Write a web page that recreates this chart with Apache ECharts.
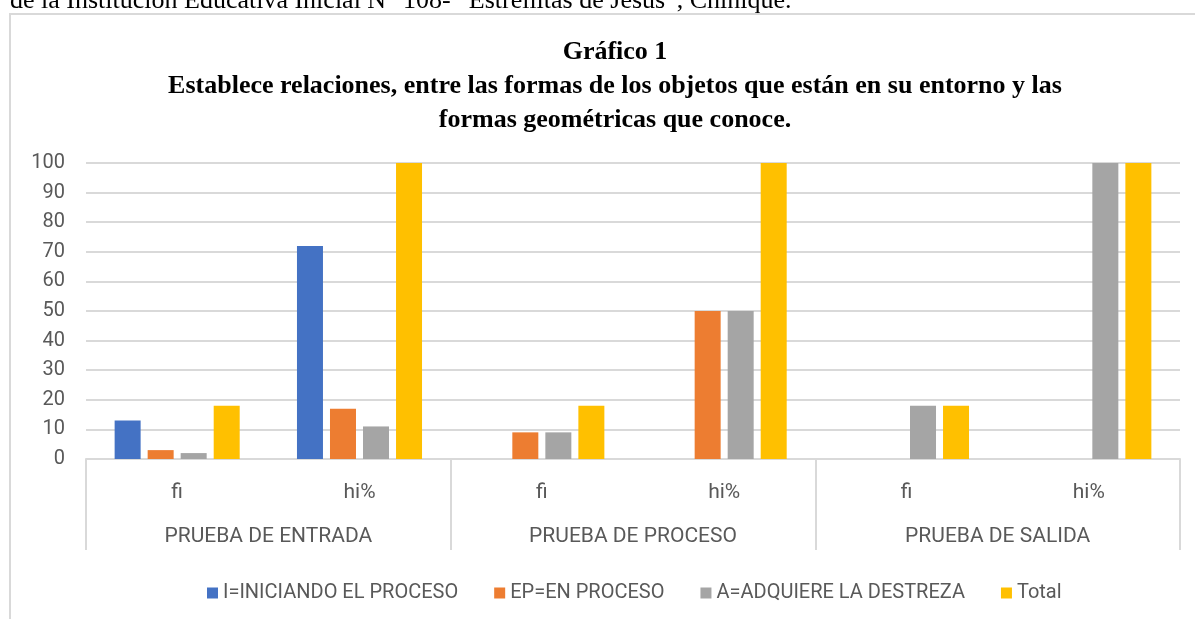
<!DOCTYPE html>
<html>
<head>
<meta charset="utf-8">
<script src="https://cdn.jsdelivr.net/npm/echarts@6/dist/echarts.min.js"></script>
<style>
  html, body { margin: 0; padding: 0; background: #fff; }
  #chart { width: 1195px; height: 619px; }
</style>
</head>
<body>
<div id="chart"></div>
<script>
const subCategories = ["fi", "hi%", "fi", "hi%", "fi", "hi%"];
const groups = ["PRUEBA DE ENTRADA", "PRUEBA DE PROCESO", "PRUEBA DE SALIDA"];
const seriesNames = ["I=INICIANDO EL PROCESO", "EP=EN PROCESO", "A=ADQUIERE LA DESTREZA", "Total"];
const iniciando = [13, 72, 0, 0, 0, 0];
const enProceso = [3, 17, 9, 50, 0, 0];
const adquiere = [2, 11, 9, 50, 18, 100];
const total = [18, 100, 18, 100, 18, 100];
const colors = ["#4472C4", "#ED7D31", "#A5A5A5", "#FFC000"];

const chart = echarts.init(document.getElementById("chart"));
const labelFont = "Roboto";
const values = [iniciando, enProceso, adquiere, total];

chart.setOption({
  backgroundColor: "#fff",
  animation: false,
  graphic: [
    {
      type: "rect",
      shape: { x: 10, y: 14, width: 1250, height: 700 },
      style: { fill: "none", stroke: "#d9d9d9", lineWidth: 2 }
    },
    {
      type: "text",
      left: 10,
      top: -12,
      style: {
        text: "de la Institución Educativa Inicial N° 108- \u201cEstrellitas de Jesús\u201d, Chinique.",
        font: "26px 'Liberation Serif'",
        fill: "#000"
      }
    }
  ],
  title: {
    text: "Gráfico 1\nEstablece relaciones, entre las formas de los objetos que están en su entorno y las\nformas geométricas que conoce.",
    left: 610,
    textAlign: "center",
    top: 30,
    textStyle: {
      fontFamily: "Liberation Serif",
      fontWeight: "bold",
      fontSize: 26,
      lineHeight: 34,
      color: "#000"
    }
  },
  legend: {
    data: seriesNames,
    left: 202,
    top: 578,
    icon: "rect",
    itemWidth: 11,
    itemHeight: 11,
    itemGap: 36,
    selectedMode: false,
    textStyle: { color: "#595959", fontFamily: labelFont, fontSize: 20 }
  },
  grid: { left: 86, right: 15, top: 163, bottom: 160 },
  xAxis: [
    {
      type: "category",
      data: subCategories,
      axisLine: { lineStyle: { color: "#d9d9d9", width: 2 } },
      axisTick: { show: false },
      axisLabel: { color: "#595959", fontFamily: labelFont, fontSize: 21, margin: 23 }
    },
    {
      type: "category",
      data: groups,
      position: "bottom",
      axisLine: { show: false },
      axisTick: { show: true, length: 91, lineStyle: { color: "#d9d9d9", width: 2 } },
      axisLabel: { color: "#595959", fontFamily: labelFont, fontSize: 21, margin: 67 }
    }
  ],
  yAxis: {
    type: "value",
    min: 0,
    max: 100,
    interval: 10,
    axisLine: { show: false },
    axisTick: { show: false },
    axisLabel: { color: "#595959", fontFamily: labelFont, fontSize: 20, margin: 21 },
    splitLine: { lineStyle: { color: "#d9d9d9", width: 2 } }
  },
  series: seriesNames.map((name, i) => ({
    name: name,
    type: "bar",
    xAxisIndex: 0,
    data: values[i],
    barWidth: 26,
    barGap: "27%",
    itemStyle: { color: colors[i] }
  }))
});
</script>
</body>
</html>
